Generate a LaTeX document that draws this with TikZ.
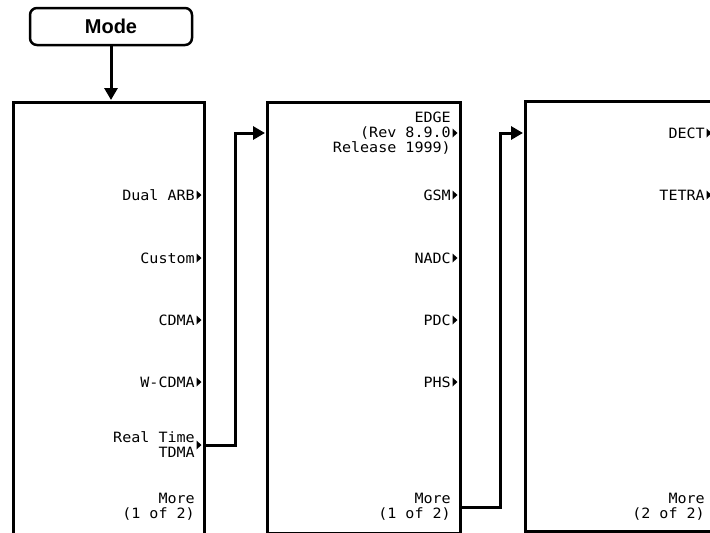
\documentclass[tikz,border=0pt]{standalone}
\usepackage{fontspec}
\setsansfont{Liberation Sans}
\newfontfamily\keyfont[FakeStretch=1.06]{DejaVu Sans Mono}
\usetikzlibrary{arrows.meta}
\newcommand{\keymark}[1]{\fill ([xshift=1.5pt]#1.east) ++(0,-4.5) -- ++(0,9) -- ++(5,-4.5) -- cycle;}
\begin{document}
\begin{tikzpicture}[x=1pt,y=-1pt,
  menu/.style={draw,line width=2.5pt,inner sep=0pt,anchor=north west},
  key/.style={anchor=east,align=right,inner sep=0pt,font=\keyfont\fontsize{14.2}{15}\selectfont},
  link/.style={line width=3pt,shorten >=1pt,-{Triangle[length=12pt,width=13pt]}}]
\useasboundingbox (0,0) rectangle (710,533);
\clip (0,0) rectangle (710,533);
% hardkey
\node[draw,line width=2.5pt,rounded corners=7pt,minimum width=162pt,minimum height=37pt,
  font=\sffamily\bfseries\fontsize{20}{20}\selectfont] (mode) at (111,26.5) {Mode};
% menus
\node[menu,minimum width=191pt,minimum height=460pt] (firstmenu) at (12,101) {};
\node[menu,minimum width=193pt,minimum height=431pt] (secondmenu) at (266,101) {};
\node[menu,minimum width=189pt,minimum height=430pt] (thirdmenu) at (524,100) {};
% first menu softkeys
\node[key] (dualarb) at (195,195) {Dual ARB};
\node[key] (custom) at (195,258) {Custom};
\node[key] (cdma) at (195,320) {CDMA};
\node[key] (wcdma) at (195,382) {W-CDMA};
\node[key] (rtdma) at (195,445) {Real Time\\TDMA};
\node[key] (more1) at (195,507) {More\\(1 of 2)};
\keymark{dualarb}
\keymark{custom}
\keymark{cdma}
\keymark{wcdma}
\keymark{rtdma}
% second menu softkeys
\node[key] (edge) at (451,133) {EDGE\\(Rev 8.9.0\\Release 1999)};
\node[key] (gsm) at (451,195) {GSM};
\node[key] (nadc) at (451,258) {NADC};
\node[key] (pdc) at (451,320) {PDC};
\node[key] (phs) at (451,382) {PHS};
\node[key] (more2) at (451,507) {More\\(1 of 2)};
\keymark{edge}
\keymark{gsm}
\keymark{nadc}
\keymark{pdc}
\keymark{phs}
% third menu softkeys
\node[key] (dect) at (705,133) {DECT};
\node[key] (tetra) at (705,195) {TETRA};
\node[key] (more3) at (705,507) {More\\(2 of 2)};
\keymark{dect}
\keymark{tetra}
% links
\draw[link] (mode.south) -- (mode.south |- firstmenu.north);
\draw[link] (firstmenu.east |- rtdma.east) -- ++(30,0) |- (secondmenu.west |- edge.east);
\draw[link] (secondmenu.east |- more2.east) -- ++(39,0) |- (thirdmenu.west |- dect.east);
\end{tikzpicture}
\end{document}
